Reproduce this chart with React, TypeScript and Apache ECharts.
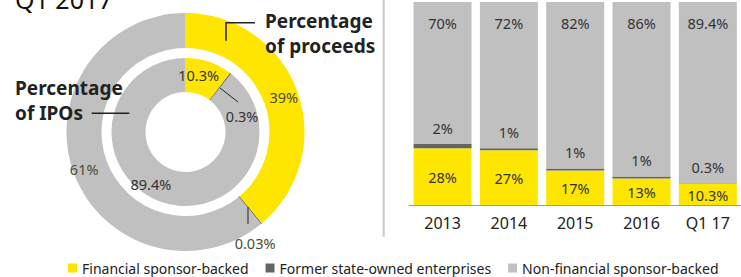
import React, { useEffect, useRef } from "react";
import * as echarts from "echarts";

const legendNames = [
  "Financial sponsor-backed",
  "Former state-owned enterprises",
  "Non-financial sponsor-backed",
];
const years = ["2013", "2014", "2015", "2016", "Q1 17"];
const sponsorBacked = [28, 27, 17, 13, 10.3];
const stateOwned = [2, 1, 1, 1, 0.3];
const nonSponsor = [70, 72, 82, 86, 89.4];

const proceedsShare = [39, 0.03, 61];
const ipoShare = [10.3, 0.3, 89.4];

const COLORS = ["#FFE600", "#646464", "#C0C0C0"];
const FONT = '"Noto Sans", "Open Sans", sans-serif';

const outerOffsets = [
  [0, 0],
  [3, 30],
  [-3, 2],
];
const innerOffsets = [
  [-6, 0],
  [20, 32],
  [-15, -5],
];

export default function App() {
  const ref = useRef<HTMLDivElement>(null);
  useEffect(() => {
    if (!ref.current) return;
    const chart = echarts.init(ref.current, undefined, { renderer: "svg" });
    const pieCommon = {
      type: "pie" as const,
      center: [185.5, 132],
      startAngle: 90,
      clockwise: true,
      silent: true,
      emphasis: { disabled: true },
      labelLine: { show: false },
    };
    chart.setOption({
      animation: false,
      textStyle: { fontFamily: FONT },
      legend: {
        data: legendNames,
        left: 63,
        top: 256,
        itemWidth: 9,
        itemHeight: 9,
        itemGap: 17,
        icon: "rect",
        selectedMode: false,
        textStyle: { fontSize: 14, color: "#222", fontFamily: FONT },
      },
      grid: { left: 409.4, right: -14.4, top: 2, bottom: 72 },
      xAxis: {
        type: "category",
        data: years,
        axisLine: { lineStyle: { color: "#9a9a9a", width: 1 } },
        axisTick: { show: false },
        axisLabel: { margin: 10, fontSize: 16, color: "#222", fontFamily: FONT },
      },
      yAxis: { type: "value", min: 0, max: 100, show: false },
      series: [
        {
          ...pieCommon,
          name: "Percentage of proceeds",
          radius: [84, 119],
          data: proceedsShare.map((v, i) => ({
            value: v,
            name: legendNames[i],
            itemStyle:
              i === 1
                ? { color: COLORS[i], borderColor: COLORS[i], borderWidth: 1 }
                : { color: COLORS[i] },
          })),
          label: {
            show: true,
            position: "inside",
            formatter: "{c}%",
            color: "#4a4a35",
            fontSize: 14.5,
            fontFamily: FONT,
          },
          labelLayout: (p: any) => ({
            dx: outerOffsets[p.dataIndex][0],
            dy: outerOffsets[p.dataIndex][1],
          }),
        },
        {
          ...pieCommon,
          name: "Percentage of IPOs",
          radius: [40, 74],
          data: ipoShare.map((v, i) => ({
            value: v,
            name: legendNames[i],
            itemStyle: { color: COLORS[i] },
          })),
          label: {
            show: true,
            position: "inside",
            formatter: "{c}%",
            color: "#333",
            fontSize: 14.5,
            fontFamily: FONT,
          },
          labelLayout: (p: any) => ({
            dx: innerOffsets[p.dataIndex][0],
            dy: innerOffsets[p.dataIndex][1],
          }),
        },
        {
          type: "bar",
          name: legendNames[0],
          stack: "s",
          barWidth: 58,
          silent: true,
          data: sponsorBacked,
          itemStyle: { color: COLORS[0] },
          label: {
            show: true,
            position: "inside",
            formatter: "{c}%",
            color: "#333",
            fontSize: 14.5,
            fontFamily: FONT,
          },
        },
        {
          type: "bar",
          name: legendNames[1],
          stack: "s",
          barWidth: 58,
          silent: true,
          data: stateOwned,
          itemStyle: { color: COLORS[1] },
          label: {
            show: true,
            position: "top",
            distance: 9,
            formatter: "{c}%",
            color: "#333",
            fontSize: 14.5,
            fontFamily: FONT,
          },
        },
        {
          type: "bar",
          name: legendNames[2],
          stack: "s",
          barWidth: 58,
          silent: true,
          data: nonSponsor,
          itemStyle: { color: COLORS[2] },
          label: {
            show: true,
            position: "insideTop",
            distance: 13,
            formatter: "{c}%",
            color: "#333",
            fontSize: 14.5,
            fontFamily: FONT,
          },
        },
      ],
      graphic: [
        {
          type: "text",
          silent: true,
          z: 100,
          style: {
            x: 15,
            y: -1,
            text: "Q1 2017",
            font: `25px ${FONT}`,
            fill: "#111",
            verticalAlign: "middle",
          },
        },
        {
          type: "line",
          silent: true,
          z: 100,
          shape: { x1: 383.7, y1: 0, x2: 383.7, y2: 236.7 },
          style: { stroke: "#c8c8c8", lineWidth: 2 },
        },
        {
          type: "text",
          silent: true,
          z: 100,
          style: {
            x: 265,
            y: 8,
            text: "Percentage\nof proceeds",
            font: `bold 19px ${FONT}`,
            lineHeight: 25,
            fill: "#222",
            verticalAlign: "top",
          },
        },
        {
          type: "text",
          silent: true,
          z: 100,
          style: {
            x: 15,
            y: 75.5,
            text: "Percentage\nof IPOs",
            font: `bold 19px ${FONT}`,
            lineHeight: 25,
            fill: "#222",
            verticalAlign: "top",
          },
        },
        {
          type: "polyline",
          silent: true,
          z: 100,
          shape: { points: [[255, 22.7], [226, 22.7], [226, 40.7]] },
          style: { stroke: "#222", lineWidth: 1.5, fill: null },
        },
        {
          type: "line",
          silent: true,
          z: 100,
          shape: { x1: 91.7, y1: 113.3, x2: 129.3, y2: 113.3 },
          style: { stroke: "#222", lineWidth: 1.5 },
        },
        {
          type: "line",
          silent: true,
          z: 100,
          shape: { x1: 220, y1: 88, x2: 238, y2: 102 },
          style: { stroke: "#222", lineWidth: 1 },
        },
        {
          type: "line",
          silent: true,
          z: 100,
          shape: { x1: 248, y1: 207, x2: 248, y2: 224 },
          style: { stroke: "#222", lineWidth: 1 },
        },
      ],
    });
    return () => chart.dispose();
  }, []);
  return (
    <div
      ref={ref}
      style={{ position: "absolute", left: 0, top: 0, width: 741, height: 277 }}
    />
  );
}
